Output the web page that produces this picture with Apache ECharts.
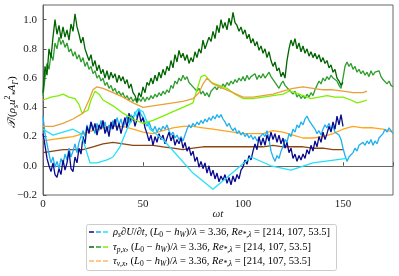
<!DOCTYPE html>
<html><head><meta charset="utf-8">
<script src="https://cdn.jsdelivr.net/npm/echarts@6/dist/echarts.min.js"></script>
<style>html,body{margin:0;padding:0;background:#fff}#c{width:399px;height:276px}</style>
</head><body><div id="c"></div>
<script>
// ---- data ----
const xTicks = [0, 50, 100, 150];
const yTicks = [-0.2, 0.0, 0.2, 0.4, 0.6, 0.8, 1.0];

// navy (step 1, t = 0..150)
const navyStart = 0, navyStep = 1;
const navyVals = [
0.22,0.14,0.05,0.0,-0.04,0.02,-0.06,-0.08,-0.02,-0.06,
0.04,-0.03,0.02,0.1,-0.02,-0.04,0.06,0.02,0.12,0.08,
0.2,0.15,0.27,0.22,0.3,0.24,0.29,0.21,0.28,0.25,
0.31,0.22,0.27,0.2,0.3,0.25,0.32,0.24,0.29,0.22,
0.28,0.33,0.26,0.36,0.3,0.34,0.27,0.32,0.37,0.3,
0.33,0.26,0.22,0.17,0.21,0.14,0.2,0.16,0.22,0.18,
0.21,0.15,0.19,0.23,0.17,0.21,0.14,0.18,0.15,0.19,
0.12,0.16,0.1,0.13,0.07,0.1,0.03,0.06,-0.01,0.03,
-0.02,0.02,-0.05,0.0,-0.07,-0.03,-0.09,-0.05,-0.11,-0.07,
-0.1,-0.06,-0.12,-0.08,-0.13,-0.07,-0.11,-0.06,-0.09,-0.03,
-0.01,0.04,0.01,0.07,0.04,0.1,0.15,0.11,0.2,0.14,
0.19,0.14,0.21,0.17,0.23,0.18,0.22,0.16,0.21,0.15,
0.19,0.12,0.16,0.09,0.12,0.05,0.08,0.03,0.07,0.04,
0.08,0.05,0.11,0.08,0.14,0.1,0.17,0.13,0.2,0.16,
0.23,0.18,0.22,0.27,0.23,0.3,0.25,0.34,0.28,0.35,0.27];

// deep sky blue (step 1, t = 0..175)
const skyStart = 0, skyStep = 1;
const skyVals = [
0.34,0.22,0.15,0.08,0.02,0.06,-0.01,0.03,-0.02,0.05,
0.01,0.08,0.04,0.12,0.06,0.1,0.15,0.09,0.16,0.2,
0.24,0.2,0.28,0.23,0.3,0.26,0.22,0.29,0.24,0.31,
0.26,0.3,0.23,0.28,0.25,0.31,0.27,0.33,0.28,0.32,
0.26,0.3,0.34,0.29,0.35,0.31,0.37,0.33,0.39,0.35,
0.33,0.3,0.27,0.3,0.26,0.24,0.27,0.23,0.26,0.24,
0.27,0.25,0.28,0.24,0.21,0.23,0.19,0.21,0.18,0.2,
0.17,0.21,0.25,0.28,0.26,0.29,0.27,0.3,0.28,0.31,
0.29,0.32,0.3,0.33,0.31,0.34,0.32,0.35,0.33,0.35,
0.32,0.3,0.27,0.29,0.26,0.24,0.26,0.22,0.24,0.21,
0.23,0.2,0.22,0.19,0.21,0.18,0.2,0.17,0.19,0.18,
0.22,0.2,0.24,0.18,0.1,0.06,0.03,0.07,0.05,0.1,
0.13,0.18,0.16,0.22,0.2,0.25,0.23,0.28,0.26,0.3,
0.28,0.32,0.34,0.31,0.3,0.27,0.25,0.22,0.24,0.21,
0.25,0.28,0.26,0.29,0.25,0.27,0.23,0.24,0.21,0.18,
0.12,0.07,0.03,0.06,0.05,0.09,0.12,0.1,0.14,0.13,
0.16,0.14,0.17,0.15,0.18,0.14,0.17,0.15,0.19,0.2,
0.22,0.25,0.23,0.26,0.24,0.22];

// cyan (sparse)
const cyanT = [0,5,10,15,19,23.5,27,32,35,38.5,42,45,47.5,50,53.5,60,75,85,104,114,124,135,152];
const cyanV = [0.25,0.21,0.23,0.25,0.22,0.02,0.02,0.04,0.06,0.13,0.25,0.33,0.39,0.37,0.25,0.18,-0.05,-0.16,0.06,0.0,-0.03,0.02,0.05];

// dark green (step 1, t = 0..150)
const dgStart = 0, dgStep = 1;
const dgVals = [
0.5,0.68,0.62,0.8,0.74,0.88,1.0,0.9,0.96,0.87,
0.95,0.88,0.93,0.86,0.97,0.92,1.04,0.95,0.9,0.84,
0.88,0.8,0.76,0.72,0.76,0.68,0.72,0.65,0.69,0.63,
0.66,0.6,0.65,0.59,0.64,0.6,0.63,0.57,0.62,0.58,
0.61,0.56,0.59,0.53,0.56,0.5,0.48,0.44,0.5,0.47,
0.54,0.5,0.57,0.55,0.6,0.56,0.62,0.58,0.64,0.6,
0.66,0.62,0.68,0.65,0.72,0.67,0.76,0.71,0.79,0.74,
0.77,0.72,0.76,0.7,0.74,0.71,0.78,0.74,0.8,0.77,
0.86,0.8,0.84,0.88,0.85,0.92,0.87,0.96,0.91,1.0,
0.94,0.98,0.93,1.01,0.96,1.05,0.98,0.96,0.92,0.95,
0.9,0.93,0.87,0.9,0.84,0.87,0.82,0.85,0.79,0.82,
0.77,0.8,0.74,0.78,0.72,0.68,0.71,0.65,0.67,0.61,
0.64,0.6,0.72,0.8,0.86,0.82,0.87,0.8,0.84,0.78,
0.82,0.77,0.8,0.75,0.78,0.74,0.77,0.73,0.76,0.71,
0.74,0.7,0.72,0.67,0.69,0.64,0.66,0.6,0.58,0.55,0.57];

// medium green (step 1, t = 0..175)
const mgStart = 0, mgStep = 1;
const mgVals = [
0.48,0.6,0.7,0.66,0.76,0.72,0.84,0.8,0.88,0.83,
0.86,0.81,0.84,0.78,0.8,0.75,0.78,0.73,0.76,0.71,
0.74,0.68,0.71,0.66,0.68,0.63,0.65,0.6,0.62,0.58,
0.6,0.55,0.57,0.53,0.55,0.51,0.53,0.49,0.51,0.48,
0.5,0.46,0.48,0.45,0.47,0.44,0.46,0.43,0.46,0.44,
0.47,0.44,0.47,0.45,0.48,0.46,0.49,0.47,0.5,0.48,
0.51,0.49,0.52,0.5,0.55,0.53,0.58,0.56,0.6,0.58,
0.62,0.59,0.61,0.57,0.58,0.54,0.55,0.51,0.53,0.49,
0.51,0.48,0.5,0.47,0.51,0.5,0.54,0.52,0.55,0.53,
0.56,0.54,0.57,0.55,0.58,0.56,0.59,0.57,0.6,0.58,
0.61,0.58,0.62,0.59,0.61,0.6,0.63,0.59,0.62,0.6,
0.63,0.6,0.62,0.64,0.61,0.6,0.57,0.55,0.53,0.56,
0.58,0.55,0.56,0.52,0.53,0.49,0.51,0.47,0.49,0.46,
0.48,0.46,0.49,0.47,0.5,0.48,0.52,0.55,0.58,0.56,
0.6,0.58,0.61,0.59,0.62,0.6,0.61,0.58,0.55,0.53,
0.6,0.68,0.71,0.68,0.7,0.66,0.68,0.64,0.66,0.63,
0.65,0.62,0.64,0.61,0.65,0.62,0.64,0.63,0.65,0.61,
0.59,0.6,0.56,0.58,0.55,0.54];

// lawn green (sparse)
const lgT = [0,4,8,10,13,16,18,19.5,22.5,24,26,28,30,35,40,45,50,55,60,65,70,75,77,79,81,84,88,92,96,100,105,110,115,120,123,126,130,134,138,142,146,150,154,157,160,162];
const lgV = [0.45,0.47,0.48,0.49,0.47,0.46,0.42,0.36,0.38,0.45,0.51,0.49,0.45,0.41,0.36,0.32,0.29,0.31,0.34,0.37,0.4,0.43,0.52,0.61,0.62,0.57,0.55,0.53,0.49,0.46,0.46,0.47,0.48,0.49,0.51,0.5,0.48,0.46,0.47,0.48,0.47,0.47,0.45,0.43,0.44,0.45];

// upper orange (sparse)
const uoT = [0,5,10,15,20,23,25,27,30,35,40,45,50,55,60,65,70,75,78,80,82,85,90,95,100,105,110,115,120,125,130,135,140,145,150,155,160,162];
const uoV = [0.27,0.27,0.29,0.32,0.36,0.45,0.52,0.54,0.53,0.5,0.47,0.43,0.4,0.41,0.42,0.43,0.44,0.46,0.5,0.56,0.6,0.56,0.53,0.5,0.47,0.47,0.48,0.49,0.51,0.53,0.54,0.53,0.52,0.52,0.51,0.5,0.5,0.51];

// lower orange (step 5, t = 0..175)
const loStart = 0, loStep = 5;
const loVals = [0.17,0.18,0.19,0.2,0.22,0.24,0.26,0.27,0.27,0.25,0.23,0.22,0.24,0.26,0.27,0.27,0.26,0.25,0.24,0.23,0.22,0.22,0.22,0.24,0.23,0.21,0.19,0.19,0.2,0.22,0.25,0.27,0.26,0.26,0.25,0.23];

// brown (step 5, t = 0..150)
const brStart = 0, brStep = 5;
const brVals = [0.09,0.1,0.11,0.11,0.11,0.13,0.15,0.16,0.15,0.14,0.14,0.14,0.13,0.12,0.11,0.12,0.13,0.13,0.13,0.13,0.13,0.13,0.13,0.14,0.13,0.13,0.13,0.12,0.12,0.11,0.11];

// ---- build ----
const stepData = (s, d, vals) => vals.map((v, i) => [s + i * d, v]);
const pairData = (ts, vs) => ts.map((t, i) => [t, vs[i]]);
const C = {
  navy: '#0a0a8c', sky: '#1fb0ee', cyan: '#22e0f8',
  dg: '#006400', mg: '#2e9e2e', lg: '#7cf000',
  uo: '#e8a03a', lo: '#ffa51e', br: '#8b4513'
};
const mk = (data, color, w, z) => ({type: 'line', data, showSymbol: false, symbol: 'none',
  lineStyle: {color, width: w}, z, animation: false, silent: true});
const series = [
  mk(stepData(loStart, loStep, loVals), C.lo, 1.3, 2),
  mk(stepData(brStart, brStep, brVals), C.br, 1.3, 2),
  mk(stepData(skyStart, skyStep, skyVals), C.sky, 1.3, 3),
  mk(stepData(navyStart, navyStep, navyVals), C.navy, 1.3, 4),
  mk(pairData(cyanT, cyanV), C.cyan, 1.3, 5),
  mk(stepData(mgStart, mgStep, mgVals), C.mg, 1.3, 3),
  mk(stepData(dgStart, dgStep, dgVals), C.dg, 1.3, 4),
  mk(pairData(lgT, lgV), C.lg, 1.3, 5),
  mk(pairData(uoT, uoV), C.uo, 1.3, 5)
];

const serif = '"Liberation Serif", "DejaVu Serif", serif';
const fmt = v => {
  const r = Math.round(v * 10) / 10;
  return (r < 0 ? '\u2212' : '') + Math.abs(r).toFixed(1);
};

const richBase = {
  m: {fontFamily: serif, fontSize: 10.5, fontStyle: 'italic', color: '#222', lineHeight: 14},
  r: {fontFamily: serif, fontSize: 10.5, color: '#222', lineHeight: 14},
  sub: {fontFamily: serif, fontSize: 7.5, fontStyle: 'italic', color: '#222', verticalAlign: 'bottom', lineHeight: 12},
  subr: {fontFamily: serif, fontSize: 7.5, color: '#222', verticalAlign: 'bottom', lineHeight: 12}
};
const common = '{r|, (}{m|L}{subr|0}{r| \u2212 }{m|h}{sub|W}{r|)/}{m|\u03bb}{r| = 3.36, }{m|Re}{sub|*,\u03bb}{r| = [214, 107, 53.5]}';
const legendTexts = [
  '{m|\u03c1}{sub|s}{r|\u2202}{m|U}{r|/\u2202}{m|t}' + common,
  '{m|\u03c4}{sub|p,x}' + common,
  '{m|\u03c4}{sub|\u03bd,x}' + common
];
const legendColors = [[C.navy, C.sky, C.cyan], [C.dg, C.mg, C.lg], ['#fdb863', '#fdb863', '#fdb863']];

const legendEls = [{type: 'rect', shape: {x: 86.5, y: 224.5, width: 250, height: 46, r: 2},
  style: {fill: 'rgba(255,255,255,0.85)', stroke: '#cccccc', lineWidth: 1}}];
const rowsY = [232, 247, 261];
rowsY.forEach((y, k) => {
  const xs = [[89, 94], [96, 101], [103, 108]];
  xs.forEach((p, j) => legendEls.push({type: 'line', shape: {x1: p[0], y1: y, x2: p[1], y2: y},
    style: {stroke: legendColors[k][j], lineWidth: 1.5}}));
  legendEls.push({type: 'text', x: 113, y: y, style: {text: legendTexts[k], rich: richBase,
    verticalAlign: 'middle', align: 'left'}});
});

// y-axis title as rotated text (starts at bottom, reads upward)
legendEls.push({type: 'text', x: 12, y: 128, rotation: Math.PI / 2,
  style: {text: '{m|\uD835\uDCAF}{r|/(}{m|\u03c1}{sub|s}{m|u}{sup|2}{sub|*}{m|A}{sub|\u0393}{r|)}',
    align: 'left', verticalAlign: 'middle',
    rich: {
      m: {fontFamily: serif, fontSize: 11, fontStyle: 'italic', color: '#222', lineHeight: 16},
      r: {fontFamily: serif, fontSize: 11, color: '#222', lineHeight: 16},
      sub: {fontFamily: serif, fontSize: 8, fontStyle: 'italic', color: '#222', verticalAlign: 'bottom', lineHeight: 14},
      sup: {fontFamily: serif, fontSize: 8, color: '#222', verticalAlign: 'top', lineHeight: 14}
    }}});
// x-axis title
legendEls.push({type: 'text', x: 218, y: 214,
  style: {text: '\u03c9t', font: 'italic 11px ' + serif, fill: '#222', align: 'center', verticalAlign: 'middle'}});

const chart = echarts.init(document.getElementById('c'), null, {renderer: 'canvas'});
chart.setOption({
  animation: false,
  grid: {left: 43, right: 6, top: 5, bottom: 81, show: true, borderColor: '#666', borderWidth: 1,
    backgroundColor: 'transparent', containLabel: false, outerBoundsMode: 'none'},
  xAxis: {type: 'value', min: 0, max: 175, interval: 50,
    axisLine: {show: true, lineStyle: {color: '#666', width: 1}},
    axisTick: {show: true, inside: true, length: 3.5, lineStyle: {color: '#555'}},
    axisLabel: {fontFamily: serif, fontSize: 11, color: '#222', margin: 4,
      formatter: v => xTicks.includes(v) ? String(v) : ''},
    splitLine: {show: false}},
  yAxis: {type: 'value', min: -0.2, max: 1.1, interval: 0.2,
    axisLine: {show: true, lineStyle: {color: '#666', width: 1}},
    axisTick: {show: true, inside: true, length: 3.5, lineStyle: {color: '#555'}},
    axisLabel: {fontFamily: serif, fontSize: 11, color: '#222', margin: 6, showMaxLabel: false,
      formatter: v => yTicks.some(t => Math.abs(t - v) < 1e-6) ? fmt(v) : ''},
    splitLine: {show: false}},
  series,
  graphic: legendEls
});
</script></body></html>
